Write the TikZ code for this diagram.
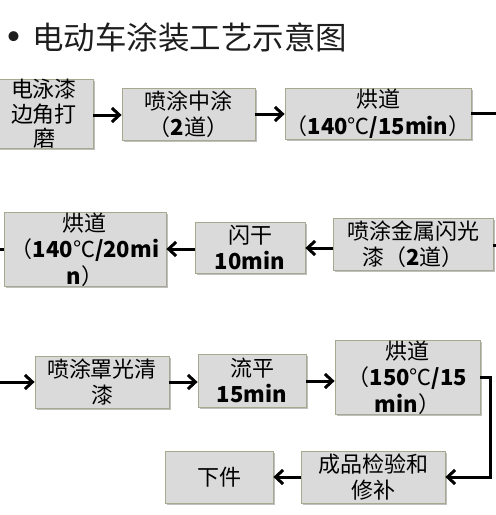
\documentclass[tikz,border=0pt]{standalone}
\usepackage{fontspec}
\setmainfont{Carlito}
\newfontfamily\cjk{Noto Sans CJK SC}
\usetikzlibrary{arrows.meta,shadows}
\newcommand\bn[1]{{\bfseries #1}}
\definecolor{boxfill}{HTML}{DADADA}
\definecolor{boxline}{HTML}{A8A890}
\definecolor{titlecol}{HTML}{1E1E1E}
\tikzset{
  procbox/.style={draw=boxline, line width=0.8pt, fill=boxfill, align=center, inner sep=0pt,
    font=\fontsize{22}{26.5}\selectfont\cjk,
    drop shadow={shadow xshift=1.5pt, shadow yshift=-1.5pt, opacity=0.25, fill=black}},
  conn/.style={draw=black, line width=3pt},
  arr/.style={conn, -{Straight Barb[length=7.5pt,width=14pt]}},
}
\begin{document}
\begin{tikzpicture}[x=1pt,y=-1pt]
\useasboundingbox (0,0) rectangle (496,515);
\clip (0,0) rectangle (496,515);
\fill[white] (0,0) rectangle (496,515);
% title
\node[font=\fontsize{28}{28}\selectfont, text=titlecol] (bul) at (13.5,38) {•};
\node[anchor=west, inner sep=0pt, font=\fontsize{31.5}{32}\selectfont\cjk, text=titlecol] (title) at (32,37) {电动车涂装工艺示意图};
% row 1
\node[procbox, minimum width=98pt, minimum height=52pt] (b1) at (44,114) {电泳漆\\[-2pt]边角打\\[-2pt]磨};
\node[procbox, minimum width=133pt, minimum height=52pt] (b2) at (188.5,114) {喷涂中涂\\（\bn{2}道）};
\node[procbox, minimum width=186pt, minimum height=51pt] (b3) at (378,113.5) {烘道\\（\bn{140}℃\bn{/15min}）};
% row 2
\node[procbox, minimum width=162pt, minimum height=53pt] (b4) at (85,249.5) {烘道\\（\bn{140}℃\bn{/20mi}\\\bn{n}）};
\node[procbox, minimum width=110pt, minimum height=51pt] (b5) at (250,247.5) {闪干\\\bn{10min}};
\node[procbox, minimum width=160pt, minimum height=52pt] (b6) at (413,244) {喷涂金属闪光\\漆（\bn{2}道）};
% row 3
\node[procbox, minimum width=134pt, minimum height=52pt] (b7) at (102,382) {喷涂罩光清\\漆};
\node[procbox, minimum width=108pt, minimum height=53pt] (b8) at (252,380.5) {流平\\\bn{15min}};
\node[procbox, minimum width=145pt, minimum height=51pt] (b9) at (407.5,377.5) {烘道\\（\bn{150}℃\bn{/15}\\\bn{min}）};
\node[procbox, minimum width=144pt, minimum height=52pt] (b10) at (373,477) {成品检验和\\修补};
\node[procbox, minimum width=108pt, minimum height=52pt] (b11) at (219,477) {下件};
% edge coordinates
\coordinate (r1) at (502,113);
\coordinate (r2) at (502,245);
\coordinate (l2) at (-6,249);
\coordinate (l3) at (-6,382);
\coordinate (c9) at (490,377.5);
% connectors
\draw[arr] (b1.east |- 0,115) -- (b2.west |- 0,115);
\draw[arr] (b2.east |- 0,114) -- (b3.west |- 0,114);
\draw[conn] (b3.east |- r1) -- (r1);
\draw[conn] (r2) -- (b6.east |- r2);
\draw[arr] (b6.west |- 0,248) -- (b5.east |- 0,248);
\draw[arr] (b5.west |- 0,249) -- (b4.east |- 0,249);
\draw[conn] (b4.west |- l2) -- (l2);
\draw[arr] (l3) -- (b7.west |- l3);
\draw[arr] (b7.east |- 0,382) -- (b8.west |- 0,382);
\draw[arr] (b8.east |- 0,381) -- (b9.west |- 0,381);
\draw[arr] (b9.east |- c9) -- (c9) -- (c9 |- b10.east) -- (b10.east);
\draw[arr] (b10.west) -- (b11.east);
\end{tikzpicture}
\end{document}
